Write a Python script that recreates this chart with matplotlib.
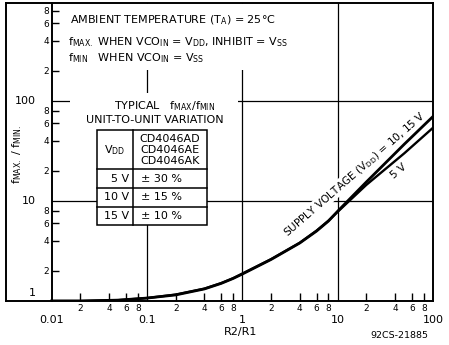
import numpy as np
import matplotlib
matplotlib.use("Agg")
import matplotlib.pyplot as plt
from matplotlib.lines import Line2D
from matplotlib.patches import Rectangle

plt.rcParams['font.family'] = ['DejaVu Sans']
plt.rcParams['mathtext.default'] = 'regular'

# curve data (R2/R1 vs fMAX/fMIN)
ratio = [0.01, 0.02, 0.05, 0.1, 0.2, 0.4, 0.6, 0.8, 1, 2, 4, 6, 8, 10, 20, 50, 100]
f_10_15v = [1.0, 1.0, 1.02, 1.07, 1.15, 1.32, 1.5, 1.68, 1.86, 2.6, 3.8, 5.0, 6.3, 7.9, 15.5, 37, 70]
f_5v = [1.0, 1.0, 1.02, 1.07, 1.16, 1.33, 1.51, 1.69, 1.88, 2.62, 3.82, 5.05, 6.35, 7.8, 14.5, 30, 54]

x_major = [0.01, 0.1, 1, 10, 100]
x_major_labels = ['0.01', '0.1', '1', '10', '100']
y_major = [1, 10, 100]
y_major_labels = ['1', '10', '100']
minor_digits = [2, 4, 6, 8]

vdd_rows = ['5 V', '10 V', '15 V']
variation = ['± 30 %', '± 15 %', '± 10 %']
part_numbers = ['CD4046AD', 'CD4046AE', 'CD4046AK']

W, H = 449, 345


def px(x, y):
    # pixel position (from top-left) to figure fraction
    return x / W, 1 - y / H


fig = plt.figure(figsize=(W / 100, H / 100), dpi=100)
ax = fig.add_axes([6 / W, 1 - 301 / H, (433 - 6) / W, (301 - 3) / H])
ax.set_xscale('log')
ax.set_yscale('log')
xmin = 10 ** (-2 - 46 / 96)
ax.set_xlim(xmin, 100)
ax.set_ylim(1, 10 ** (298 / 100))

for s in ax.spines.values():
    s.set_linewidth(1.4)
ax.spines['left'].set_position(('data', 0.01))
ax.axvline(xmin, color='black', lw=1.4, clip_on=False)

# ticks
xminor = [d * 10.0 ** e for e in range(-2, 2) for d in minor_digits]
yminor = [d * 10.0 ** e for e in range(0, 3) for d in minor_digits]
ax.set_xticks([])
ax.set_yticks([])
ax.set_xticks(xminor, minor=True)
ax.set_xticklabels([str(d) for e in range(-2, 2) for d in minor_digits], minor=True)
ax.set_yticks(yminor, minor=True)
ax.set_yticklabels([str(d) for e in range(0, 3) for d in minor_digits], minor=True)
ax.tick_params(which='minor', direction='in', length=5, width=1, labelsize=6.5, pad=2)
ax.tick_params(axis='x', which='minor', length=6)

for xv, lab in zip(x_major, x_major_labels):
    ax.text(xv, -0.065, lab, transform=ax.get_xaxis_transform(), ha='center', va='center',
            fontsize=8)
for yv, lab in zip(y_major, y_major_labels):
    yy = yv * 1.2 if yv == 1 else yv
    ax.text(0.0068, yy, lab, ha='right', va='center', fontsize=8)

# grid lines
for xv in [0.1, 1, 10]:
    ax.axvline(xv, color='black', lw=0.9, zorder=1)
for yv in [10, 100]:
    ax.axhline(yv, xmin=(np.log10(0.01) - np.log10(xmin)) / (2 - np.log10(xmin)),
               color='black', lw=0.9, zorder=1)

# curves
ax.plot(ratio, f_10_15v, color='black', lw=2.0, zorder=2, solid_joinstyle='round')
ax.plot(ratio, f_5v, color='black', lw=1.7, zorder=2, solid_joinstyle='round')

ax.text(15, 18.6, 'SUPPLY VOLTAGE (V$_{DD}$) = 10, 15 V', rotation=41, rotation_mode='anchor',
        ha='center', va='center', fontsize=7.6, zorder=1.5,
        bbox=dict(facecolor='white', edgecolor='none', pad=0.3))
ax.text(44, 20, '5 V', rotation=40, rotation_mode='anchor', ha='center', va='center',
        fontsize=7.6, zorder=3)

# white areas behind the note block and table
for (x0, y0, x1, y1) in [(62, 4, 300, 70), (70, 93, 238, 130)]:
    a, b = px(x0, y1)
    c, d = px(x1, y0)
    fig.add_artist(Rectangle((a, b), c - a, d - b, transform=fig.transFigure,
                             facecolor='white', edgecolor='none', zorder=1))

fs = 8
fig.text(*px(70, 20), 'AMBIENT TEMPERATURE (T$_A$) = 25°C', fontsize=fs, va='center', zorder=2)
fig.text(*px(68, 42), 'f$_{MAX.}$ WHEN VCO$_{IN}$ = V$_{DD}$, INHIBIT = V$_{SS}$', fontsize=fs,
         va='center', zorder=2)
fig.text(*px(68, 58), 'f$_{MIN}$   WHEN VCO$_{IN}$ = V$_{SS}$', fontsize=fs, va='center', zorder=2)

fig.text(*px(165, 106), 'TYPICAL   f$_{MAX}$/f$_{MIN}$', fontsize=fs, ha='center', va='center', zorder=2)
fig.text(*px(155, 120), 'UNIT-TO-UNIT VARIATION', fontsize=fs, ha='center', va='center', zorder=2)

# table
tl, tm, tr = 97, 133, 207
rows_y = [130, 169, 188, 207, 225]
a, b = px(tl, rows_y[-1])
c, d = px(tr, rows_y[0])
fig.add_artist(Rectangle((a, b), c - a, d - b, transform=fig.transFigure,
                         facecolor='white', edgecolor='black', lw=1.1, zorder=1))
for yy in rows_y[1:-1]:
    fig.add_artist(Line2D([tl / W, tr / W], [1 - yy / H] * 2, transform=fig.transFigure,
                          color='black', lw=1.1, zorder=2))
fig.add_artist(Line2D([tm / W] * 2, [1 - rows_y[0] / H, 1 - rows_y[-1] / H],
                      transform=fig.transFigure, color='black', lw=1.1, zorder=2))
fig.text(*px((tl + tm) / 2, 150), 'V$_{DD}$', fontsize=fs, ha='center', va='center', zorder=2)
for i, pn in enumerate(part_numbers):
    fig.text(*px((tm + tr) / 2, 139 + 11 * i), pn, fontsize=fs, ha='center', va='center', zorder=2)
for i, (v, pct) in enumerate(zip(vdd_rows, variation)):
    ymid = (rows_y[i + 1] + rows_y[i + 2]) / 2
    fig.text(*px(tm - 4, ymid), v, fontsize=fs, ha='right', va='center', zorder=2)
    fig.text(*px(tm + 8, ymid), pct, fontsize=fs, ha='left', va='center', zorder=2)

# axis labels
fig.text(*px(17, 155), 'f$_{MAX.}$ / f$_{MIN.}$', rotation=90, fontsize=fs, ha='center', va='center')
fig.text(*px(241, 332), 'R2/R1', fontsize=fs, ha='center', va='center')
fig.text(*px(428, 336), '92CS-21885', fontsize=6.8, ha='right', va='center')

fig.savefig('out.png', dpi=100)
